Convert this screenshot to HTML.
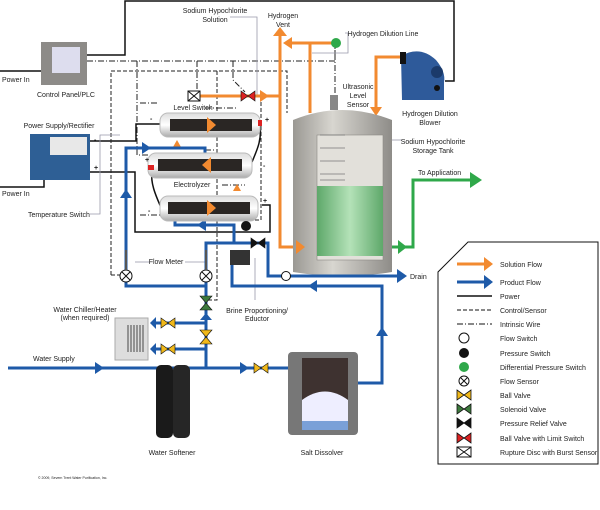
<!DOCTYPE html>
<html><head><meta charset="utf-8"><style>
html,body{margin:0;padding:0;background:#fff;}
svg{display:block;font-family:"Liberation Sans",Arial,sans-serif;}
text{font-size:7px;fill:#222;}
</style></head><body>
<svg width="600" height="510" viewBox="0 0 600 510" xmlns="http://www.w3.org/2000/svg">
<defs>
<linearGradient id="tank" x1="0" x2="1"><stop offset="0" stop-color="#9a9893"/><stop offset="0.4" stop-color="#d8d6d0"/><stop offset="1" stop-color="#8e8c88"/></linearGradient>
<linearGradient id="liq" x1="0" x2="1"><stop offset="0" stop-color="#5ea86a"/><stop offset="0.5" stop-color="#b4e2b8"/><stop offset="1" stop-color="#5ea86a"/></linearGradient>
<linearGradient id="cyl" x1="0" y1="0" x2="0" y2="1"><stop offset="0" stop-color="#ddd"/><stop offset="0.5" stop-color="#fff"/><stop offset="1" stop-color="#aaa"/></linearGradient>
</defs>

<g stroke="#111" stroke-width="1.5" fill="none">
<polyline points="87,55 125,55 125,1 454,1 454,81 445,81"/>
<polyline points="0,71 41,71"/>
<polyline points="0,187 44,187 44,180"/>
<polyline points="90,141 136,141 136,124 160,124"/>
<polyline points="90,172 135,172 135,232 270,232 270,205 262,205"/>
<path d="M152,172 C150,185 158,200 162,210"/>
<path d="M260,125 C262,140 257,150 252,162"/>
</g>

<g stroke="#222" stroke-width="1" fill="none" stroke-dasharray="4,2">
<polyline points="111,275 111,71 287,71 287,113"/>
<polyline points="217,71 217,300 206,300"/>
<polyline points="261,96 261,220 250,220"/>
<polyline points="111,275 120,275"/>
</g>
<g stroke="#222" stroke-width="1" fill="none" stroke-dasharray="6,2,1,2">
<polyline points="87,61 335,61 335,43"/>
<polyline points="137,61 137,155 150,155"/>
<polyline points="197,61 197,92"/>
<polyline points="233,61 233,80 245,92"/>
<polyline points="140,103 158,103"/>
<polyline points="140,215 160,215"/>
<polyline points="205,108 238,108"/>
<polyline points="205,150 215,150"/>
<polyline points="222,185 245,185"/>
<polyline points="335,43 335,95"/>
</g>
<g stroke="#99a" stroke-width="0.8" fill="none">
<polyline points="230,17 257,17 257,96"/>
<polyline points="90,214 100,214 100,135 120,135"/>
<polyline points="135,262 150,262"/><polyline points="185,262 206,262"/>
<polyline points="255,258 255,300"/>
<polyline points="345,33 348,33 348,53 312,53"/>
<polyline points="388,140 402,140"/>
</g>

<g stroke="#f28a30" stroke-width="3" fill="none">
<polyline points="194,96 280,96"/>
<polyline points="280,34 280,247 298,247"/>
<polyline points="287,43 335,43"/>
<polyline points="310,43 310,113"/>
<polyline points="400,57 376,57 376,108"/>
</g>
<g fill="#f28a30">
<polygon points="273,36 280,27 287,36"/>
<polygon points="283,43 292,37 292,49"/>
<polygon points="260,90 269,96 260,102"/>
<polygon points="370,107 376,116 382,107"/>
<polygon points="173,147 177,140 181,147"/>
<polygon points="233,191 237,184 241,191"/>
</g>

<path d="M293,120 Q342,100 392,120 L392,272 Q342,280 293,272 Z" fill="url(#tank)"/>
<rect x="317" y="135" width="66" height="125" fill="#e2e0da" stroke="#8a8884" stroke-width="0.6"/>
<g stroke="#777" stroke-width="0.7"><line x1="320" y1="135" x2="345" y2="135"/><line x1="320" y1="148" x2="345" y2="148"/><line x1="320" y1="161" x2="345" y2="161"/><line x1="320" y1="174" x2="345" y2="174"/><line x1="320" y1="180" x2="345" y2="180"/></g>
<rect x="317" y="186" width="66" height="70" fill="url(#liq)"/>
<rect x="330" y="95" width="8" height="15" fill="#888"/>
<polygon points="296,240 305,247 296,254" fill="#f28a30"/>

<polyline points="392,247 413,247 413,180 470,180" stroke="#2fa84a" stroke-width="3" fill="none"/>
<polygon points="398,240 407,247 398,254" fill="#2fa84a"/>
<polygon points="470,172 482,180 470,188" fill="#2fa84a"/>
<circle cx="336" cy="43" r="5" fill="#2fa84a"/>

<path d="M401,56 Q420,45 436,60 Q446,72 444,82 L444,100 L402,100 Z" fill="#2e5a9a"/>
<rect x="400" y="52" width="6" height="12" fill="#111"/>
<circle cx="437" cy="72" r="6" fill="#1b3a6a"/><circle cx="437" cy="88" r="3" fill="#111"/>

<g stroke="#1e5aa8" stroke-width="3" fill="none">
<polyline points="8,368 290,368"/>
<polyline points="206,368 206,286 126,286 126,148 205,148 205,155"/>
<polyline points="206,286 206,250"/>
<polyline points="206,323 155,323"/>
<polyline points="206,349 155,349"/>
<polyline points="358,383 382,383 382,286 232,286 232,262"/>
<polyline points="175,215 175,225 234,225 234,243 206,243 206,250"/>
<polyline points="234,243 268,243 268,276 400,276"/>
</g>
<g fill="#1e5aa8">
<polygon points="95,362 104,368 95,374"/>
<polygon points="240,362 249,368 240,374"/>
<polygon points="376,336 382,327 388,336"/>
<polygon points="317,280 308,286 317,292"/>
<polygon points="397,269 407,276 397,283"/>
<polygon points="120,198 126,189 132,198"/>
<polygon points="142,142 151,148 142,154"/>
<polygon points="206,219 197,225 206,231"/>
<polygon points="200,320 206,313 212,320"/>
<polygon points="156,317 150,323 156,329"/>
<polygon points="156,343 150,349 156,355"/>
</g>

<g>
<rect x="160" y="113" width="100" height="24" rx="8" fill="url(#cyl)" stroke="#bbb"/>
<rect x="170" y="119" width="82" height="12" fill="#2a2624"/>
<polygon points="207,117 216,125 207,133" fill="#f28a30"/>
<rect x="148" y="153" width="104" height="25" rx="8" fill="url(#cyl)" stroke="#bbb"/>
<rect x="158" y="159" width="84" height="12" fill="#2a2624"/>
<polygon points="211,157 202,165 211,173" fill="#f28a30"/>
<rect x="160" y="196" width="98" height="25" rx="8" fill="url(#cyl)" stroke="#bbb"/>
<rect x="168" y="202" width="82" height="12" fill="#2a2624"/>
<polygon points="207,200 216,208 207,216" fill="#f28a30"/>
<rect x="258" y="120" width="4" height="6" fill="#d22"/>
<rect x="148" y="165" width="6" height="5" fill="#d22"/>
</g>
<circle cx="246" cy="226" r="5" fill="#111"/>
<circle cx="286" cy="276" r="4.5" fill="#fff" stroke="#111"/>

<!-- valves -->
<g stroke="#111" stroke-width="0.6">
<path d="M241,91 L248,96 L241,101Z M255,91 L248,96 L255,101Z" fill="#d22"/>
<path d="M251,238 L258,243 L251,248Z M265,238 L258,243 L265,248Z" fill="#111"/>
<path d="M200,296 L206,303 L212,296Z M200,310 L206,303 L212,310Z" fill="#3d7a3d"/>
<path d="M200,330 L206,337 L212,330Z M200,344 L206,337 L212,344Z" fill="#f0b81a"/>
<path d="M161,318 L168,323 L161,328Z M175,318 L168,323 L175,328Z" fill="#f0b81a"/>
<path d="M161,344 L168,349 L161,354Z M175,344 L168,349 L175,354Z" fill="#f0b81a"/>
<path d="M254,363 L261,368 L254,373Z M268,363 L261,368 L268,373Z" fill="#f0b81a"/>
</g>
<rect x="188" y="91" width="12" height="10" fill="#fff" stroke="#111"/><path d="M188,91 L200,101 M200,91 L188,101" stroke="#111"/>
<g fill="#fff" stroke="#111"><circle cx="126" cy="276" r="6"/><circle cx="206" cy="276" r="6"/></g>
<path d="M122,272 L130,280 M130,272 L122,280 M202,272 L210,280 M210,272 L202,280" stroke="#111"/>
<g stroke="#555" stroke-width="2"><line x1="126" y1="250" x2="126" y2="270"/><line x1="206" y1="250" x2="206" y2="270"/></g>

<rect x="41" y="42" width="46" height="43" fill="#8d8b88"/><rect x="52" y="47" width="28" height="26" fill="#dde"/>
<rect x="30" y="134" width="60" height="46" fill="#2e5f95"/><rect x="50" y="137" width="37" height="18" fill="#e8e8e8"/>
<rect x="230" y="250" width="20" height="15" fill="#333"/>
<rect x="115" y="318" width="33" height="42" fill="#ddd" stroke="#aaa"/>
<g stroke="#222" stroke-width="0.8"><line x1="128" y1="325" x2="128" y2="352"/><line x1="131" y1="325" x2="131" y2="352"/><line x1="134" y1="325" x2="134" y2="352"/><line x1="137" y1="325" x2="137" y2="352"/><line x1="140" y1="325" x2="140" y2="352"/><line x1="143" y1="325" x2="143" y2="352"/></g>
<rect x="156" y="365" width="17" height="73" rx="5" fill="#1a1a1a"/><rect x="173" y="365" width="17" height="73" rx="5" fill="#262626"/>
<rect x="288" y="352" width="70" height="83" rx="4" fill="#777"/><rect x="302" y="358" width="46" height="72" fill="#3e3230"/>
<path d="M302,400 Q325,383 348,400 L348,430 L302,430 Z" fill="#eef"/><rect x="302" y="421" width="46" height="9" fill="#7aa0d8"/>

<polygon points="468,242 598,242 598,464 438,464 438,272" fill="#fff" stroke="#111" stroke-width="1"/>
<line x1="457" y1="264" x2="485" y2="264" stroke="#f28a30" stroke-width="3"/><polygon points="484,257 493,264 484,271" fill="#f28a30"/>
<line x1="457" y1="282" x2="485" y2="282" stroke="#1e5aa8" stroke-width="3"/><polygon points="484,275 493,282 484,289" fill="#1e5aa8"/>
<line x1="457" y1="296" x2="492" y2="296" stroke="#111" stroke-width="1.5"/>
<line x1="457" y1="310" x2="492" y2="310" stroke="#111" stroke-dasharray="4,2"/>
<line x1="457" y1="324" x2="492" y2="324" stroke="#111" stroke-dasharray="6,2,1,2"/>
<circle cx="464" cy="338" r="5" fill="#fff" stroke="#111"/>
<circle cx="464" cy="353" r="5" fill="#111"/>
<circle cx="464" cy="367" r="5" fill="#2fa84a"/>
<circle cx="464" cy="381" r="5" fill="#fff" stroke="#111"/><path d="M461,378 L467,384 M467,378 L461,384" stroke="#111"/>
<g stroke="#111" stroke-width="0.8">
<path d="M457,390 L464,395 L457,400Z M471,390 L464,395 L471,400Z" fill="#f0b81a"/>
<path d="M457,404 L464,409 L457,414Z M471,404 L464,409 L471,414Z" fill="#3d7a3d"/>
<path d="M457,418 L464,423 L457,428Z M471,418 L464,423 L471,428Z" fill="#111"/>
<path d="M457,433 L464,438 L457,443Z M471,433 L464,438 L471,443Z" fill="#d22"/>
</g>
<rect x="457" y="447" width="14" height="10" fill="#fff" stroke="#111"/><path d="M457,447 L471,457 M471,447 L457,457" stroke="#111"/>
<g>
<text x="500" y="267">Solution Flow</text><text x="500" y="285">Product Flow</text><text x="500" y="299">Power</text>
<text x="500" y="313">Control/Sensor</text><text x="500" y="327">Intrinsic Wire</text><text x="500" y="341">Flow Switch</text>
<text x="500" y="356">Pressure Switch</text><text x="500" y="370">Differential Pressure Switch</text><text x="500" y="384">Flow Sensor</text>
<text x="500" y="398">Ball Valve</text><text x="500" y="412">Solenoid Valve</text><text x="500" y="426">Pressure Relief Valve</text>
<text x="500" y="441">Ball Valve with Limit Switch</text><text x="500" y="455">Rupture Disc with Burst Sensor</text>
</g>

<g text-anchor="middle">
<text x="215" y="13">Sodium Hypochlorite</text><text x="215" y="22">Solution</text>
<text x="283" y="18">Hydrogen</text><text x="283" y="27">Vent</text>
<text x="383" y="36">Hydrogen Dilution Line</text>
<text x="358" y="89">Ultrasonic</text><text x="358" y="98">Level</text><text x="358" y="107">Sensor</text>
<text x="430" y="116">Hydrogen Dilution</text><text x="430" y="125">Blower</text>
<text x="433" y="144">Sodium Hypochlorite</text><text x="433" y="153">Storage Tank</text>
<text x="66" y="97">Control Panel/PLC</text>
<text x="59" y="128">Power Supply/Rectifier</text>
<text x="193" y="110">Level Switch</text>
<text x="192" y="187">Electrolyzer</text>
<text x="166" y="264">Flow Meter</text>
<text x="257" y="313">Brine Proportioning/</text><text x="257" y="321">Eductor</text>
<text x="85" y="312">Water Chiller/Heater</text><text x="85" y="320">(when required)</text>
<text x="172" y="455">Water Softener</text><text x="322" y="455">Salt Dissolver</text>
</g>
<text x="418" y="175">To Application</text>
<text x="410" y="279">Drain</text>
<text x="2" y="82">Power In</text><text x="2" y="196">Power In</text>
<text x="28" y="217">Temperature Switch</text>
<text x="33" y="361">Water Supply</text>
<text x="38" y="479" style="font-size:3.5px">© 2009, Severn Trent Water Purification, Inc.</text>
<g style="font-size:10px;font-weight:bold">
<text x="150" y="121">-</text><text x="265" y="122">+</text><text x="145" y="162">+</text><text x="263" y="168">-</text>
<text x="148" y="213">-</text><text x="263" y="203">+</text><text x="94" y="142">-</text><text x="94" y="170">+</text>
</g>
</svg>
</body></html>
